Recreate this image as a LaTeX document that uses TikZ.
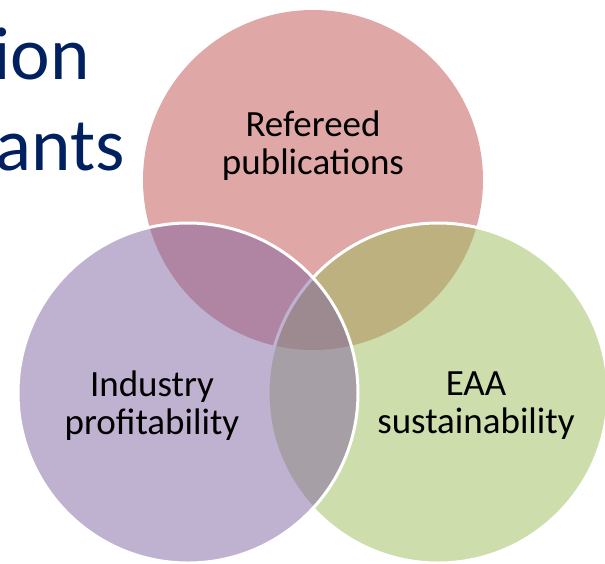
\documentclass[tikz,border=0pt]{standalone}
\usepackage{fontspec}
\setmainfont{Carlito}
\definecolor{vennred}{HTML}{C0504D}
\definecolor{venngreen}{HTML}{9BBB59}
\definecolor{vennpurple}{HTML}{8064A2}
\definecolor{titleblue}{HTML}{002060}
\tikzset{
  venn/.style={circle, minimum size=340pt, inner sep=0pt,
    fill opacity=0.5, draw=white, line width=3pt},
  vennlabel/.style={align=center, text=black,
    font=\fontsize{37pt}{38pt}\selectfont},
  titletext/.style={text=titleblue, inner sep=0pt,
    font=\fontsize{75pt}{91pt}\selectfont}
}
\begin{document}
\begin{tikzpicture}[x=1pt,y=-1pt]
  \useasboundingbox (0,0) rectangle (605,563);
  \clip (0,0) rectangle (605,563);
  % title, cut off at the left
  \node[titletext, anchor=base west] (title1) at (8,-15) {y};
  \node[titletext, anchor=base east] (title2) at (90,79) {ion};
  \node[titletext, anchor=base east] (title3) at (125,170) {ants};
  % the three circles
  \node[venn, fill=vennred, draw=none] (pubs) at (313,180) {};
  \node[venn, fill=venngreen] (eaa) at (438,393) {};
  \node[venn, fill=vennpurple] (industry) at (188,393) {};
  % labels
  \node[vennlabel] (pubslabel) at (313,146) {Refereed\\publications};
  \node[vennlabel] (industrylabel) at (152,406) {Industry\\profitability};
  \node[vennlabel] (eaalabel) at (476,406) {EAA\\sustainability};
\end{tikzpicture}
\end{document}
